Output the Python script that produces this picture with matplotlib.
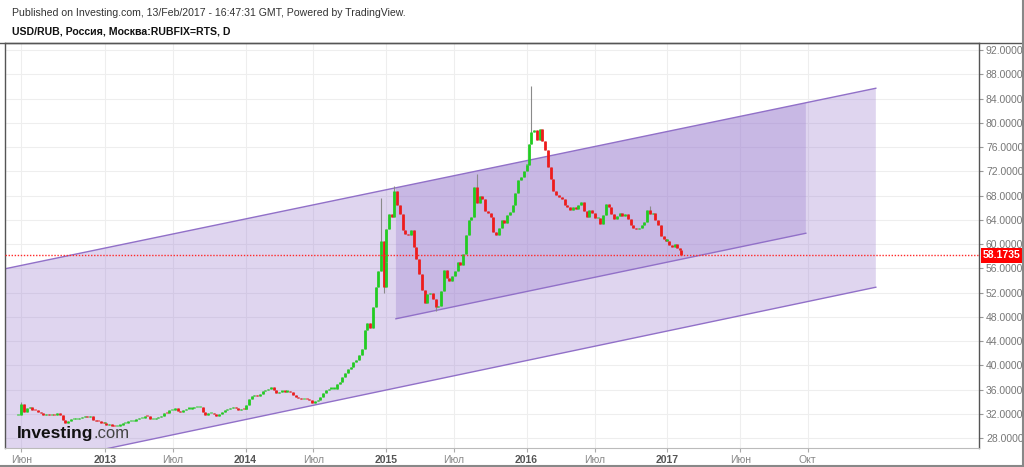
import numpy as np
import pandas as pd
import matplotlib
matplotlib.use('Agg')
import matplotlib.pyplot as plt
import matplotlib.transforms as mtransforms

plt.rcParams['font.family'] = ['Liberation Sans', 'DejaVu Sans']

# ---------------- data (weekly closes, Friday) ----------------
close_2012 = [31.9, 33.6, 32.4, 33.0, 33.2, 32.7, 32.6, 32.4, 32.1, 31.9, 32.0, 31.9,
              31.9, 31.8, 32.2, 31.9, 31.0, 30.6, 30.9, 31.1, 31.2, 31.2, 31.4, 31.5,
              31.6, 31.5, 31.6, 31.0, 30.9, 30.8, 30.6, 30.5]
close_2013 = [30.5, 30.2, 30.3, 30.1, 30.0, 30.1, 30.2, 30.5, 30.6, 30.8, 30.8, 30.9,
              31.1, 31.3, 31.4, 31.7, 31.6, 31.1, 31.1, 31.3, 31.5, 31.7, 32.2, 32.1,
              32.6, 32.7, 33.0, 32.5, 32.4, 32.6, 32.9, 32.9, 33.0, 33.1, 33.2, 33.2,
              32.4, 31.9, 32.2, 32.2, 32.0, 31.7, 32.0, 32.4, 32.6, 32.8, 33.0, 33.1,
              33.0, 32.7, 32.9, 32.8]
close_2014 = [32.9, 33.5, 34.4, 35.0, 35.2, 34.9, 35.3, 35.8, 35.9, 36.2, 36.5, 35.9,
              35.5, 35.7, 35.8, 35.7, 35.8, 35.6, 35.1, 34.8, 34.6, 34.4, 34.5, 34.4,
              34.3, 33.9, 34.1, 34.3, 34.8, 35.4, 35.9, 36.2, 36.2, 36.2, 36.9, 37.3,
              38.1, 38.7, 39.4, 39.8, 40.6, 40.9, 41.8, 42.8, 45.9, 47.0, 46.2, 49.7,
              53.0, 55.5, 60.6, 53.0]
close_2015 = [57.0, 62.5, 65.0, 64.5, 68.8, 66.5, 65.0, 62.3, 61.7, 61.5, 62.3, 59.5,
              57.5, 55.0, 52.5, 50.3, 51.8, 52.0, 51.0, 49.6, 49.8, 52.3, 55.8, 54.5,
              53.9, 54.8, 55.6, 57.0, 56.5, 58.3, 61.5, 64.0, 64.5, 69.5, 66.8, 68.0,
              67.5, 65.5, 65.2, 64.5, 62.0, 61.5, 62.6, 64.0, 63.5, 64.8, 65.3, 66.5,
              68.5, 70.6, 71.0, 72.0]
close_2016 = [73.0, 73.0, 76.5, 78.5, 78.8, 77.2, 79.0, 77.0, 75.6, 72.8, 70.8, 68.8,
              68.1, 67.7, 67.5, 66.4, 66.1, 65.6, 66.2, 65.8, 66.4, 66.9, 65.4, 64.4,
              65.6, 65.2, 64.3, 64.3, 63.3, 64.8, 66.6, 66.1, 64.9, 64.2, 64.7, 65.2,
              64.7, 65.0, 64.2, 63.1, 62.6, 62.5, 62.7, 63.1, 63.7, 65.6, 65.0, 65.2,
              64.0, 63.1, 61.4, 60.8, 60.6]
close_2017 = [60.6, 59.8, 59.6, 60.1, 59.4, 59.0]
first_fridays = ['2012-05-25', '2013-01-04', '2014-01-03', '2015-01-02', '2016-01-01', '2017-01-06']
last_date = '2017-02-13'
last_close = 58.1735

wick_high = {'2012-06-01': 34.0, '2014-12-19': 67.6, '2015-01-30': 69.6,
             '2015-08-28': 71.6, '2016-01-22': 86.0, '2016-11-18': 66.3}
wick_low = {'2014-12-26': 52.0, '2015-05-15': 49.0}

# drawings (date, value)
channel_upper = [('2015-02-04', 69.3), ('2018-02-02', 85.7)]
outer_lower = [('2013-01-22', 26.4), ('2018-02-02', 52.9)]
inner_lower = [('2015-02-04', 47.7), ('2017-09-28', 61.8)]
outer_start = '2012-03-01'
inner_end = '2017-09-28'
outer_end = '2018-02-02'

tick_dates = ['2012-06-01', '2013-01-01', '2013-07-01', '2014-01-01', '2014-07-01',
              '2015-01-01', '2015-07-01', '2016-01-01', '2016-07-01', '2017-01-01',
              '2017-06-01', '2017-10-01']
tick_labels = ['Июн', '2013', 'Июл', '2014', 'Июл', '2015', 'Июл', '2016', 'Июл', '2017',
               'Июн', 'Окт']
y_ticks = list(range(28, 93, 4))

# ---------------- x mapping (trading bars, then calendar days) ----------------
holidays = [f'{y}-01-0{d}' for y in range(2013, 2019) for d in range(1, 9)]
origin = np.datetime64('2013-01-09')
last_np = np.datetime64(last_date)


def xpos(d):
    d = np.datetime64(pd.Timestamp(d).date())
    if d <= last_np:
        dd = np.busday_offset(d, 0, roll='forward', holidays=holidays)
        return float(np.busday_count(origin, dd, holidays=holidays))
    base = float(np.busday_count(origin, last_np, holidays=holidays))
    return base + float((d - last_np).astype(int))


dates, closes = [], []
for start, vals in zip(first_fridays, [close_2012, close_2013, close_2014,
                                       close_2015, close_2016, close_2017]):
    ds = pd.date_range(start, periods=len(vals), freq='W-FRI')
    dates += [d.strftime('%Y-%m-%d') for d in ds]
    closes += vals
dates.append(last_date)
closes.append(last_close)

xs = np.array([xpos(d) for d in dates])
opens = [closes[0]] + closes[:-1]

# ---------------- figure ----------------
W, H = 1024, 467
fig = plt.figure(figsize=(W / 100, H / 100), dpi=100)
ax_l, ax_r, ax_t, ax_b = 5, 979, 43, 448
ax = fig.add_axes([ax_l / W, (H - ax_b) / H, (ax_r - ax_l) / W, (ax_b - ax_t) / H])

x13 = xpos('2013-01-01')
x17 = xpos('2017-01-01')
ppb = (667 - 105) / (x17 - x13)
xlim0 = x13 - (105 - ax_l) / ppb
xlim1 = xlim0 + (ax_r - ax_l) / ppb
ax.set_xlim(xlim0, xlim1)
ax.set_ylim(26.4, 93.16)

# grid
for t in tick_dates:
    ax.axvline(xpos(t), color='#eeeeee', lw=0.8, zorder=0)
for v in y_ticks:
    ax.axhline(v, color='#eeeeee', lw=0.8, zorder=0)


def line_val(pts, d):
    (d0, v0), (d1, v1) = pts
    x0, x1 = xpos(d0), xpos(d1)
    return v0 + (v1 - v0) * (xpos(d) - x0) / (x1 - x0)


fill_c = '#9575cd'
edge_c = '#9170c8'
# outer channel
xo0, xo1 = xpos(outer_start), xpos(outer_end)
ax.fill([xo0, xo1, xo1, xo0],
        [line_val(channel_upper, outer_start), line_val(channel_upper, outer_end),
         line_val(outer_lower, outer_end), line_val(outer_lower, outer_start)],
        color=fill_c, alpha=0.3, lw=0, zorder=1)
# inner channel
xi0, xi1 = xpos(inner_lower[0][0]), xpos(inner_end)
ax.fill([xi0, xi1, xi1, xi0],
        [line_val(channel_upper, inner_lower[0][0]), line_val(channel_upper, inner_end),
         line_val(inner_lower, inner_end), line_val(inner_lower, inner_lower[0][0])],
        color=fill_c, alpha=0.3, lw=0, zorder=1)
ax.plot([xo0, xo1], [line_val(channel_upper, outer_start), line_val(channel_upper, outer_end)],
        color=edge_c, lw=1.0, zorder=2)
ax.plot([xo0, xo1], [line_val(outer_lower, outer_start), line_val(outer_lower, outer_end)],
        color=edge_c, lw=1.0, zorder=2)
ax.plot([xi0, xi1], [line_val(inner_lower, inner_lower[0][0]), line_val(inner_lower, inner_end)],
        color=edge_c, lw=1.0, zorder=2)

# candles
his = [max(o, c, wick_high.get(d, 0)) for d, o, c in zip(dates, opens, closes)]
los = [min(o, c, wick_low.get(d, 999)) for d, o, c in zip(dates, opens, closes)]
ax.vlines(xs, los, his, colors='#8a8a8a', lw=0.8, zorder=3)
cols = ['#22cc22' if c >= o else '#ee1c1c' for o, c in zip(opens, closes)]
min_body = 0.18
body_lo = np.minimum(opens, closes)
body_hi = np.maximum(np.maximum(opens, closes), body_lo + min_body)
ax.vlines(xs, body_lo, body_hi, colors=cols, lw=2.0, zorder=4)

# last price line
ax.axhline(last_close, color='#ff2a2a', lw=1.0, ls=(0, (1, 1.2)), zorder=5)

# axes styling
ax.set_xticks([xpos(t) for t in tick_dates])
ax.set_xticklabels(tick_labels)
for lab, txt in zip(ax.get_xticklabels(), tick_labels):
    if txt.isdigit():
        lab.set_fontweight('bold')
        lab.set_color('#555555')
    else:
        lab.set_color('#888888')
ax.tick_params(axis='x', labelsize=7.5, length=3, color='#aaaaaa', pad=2)
ax.yaxis.tick_right()
ax.set_yticks(y_ticks)
ax.set_yticklabels([f'{v:.4f}' for v in y_ticks])
ax.tick_params(axis='y', labelsize=7.5, labelcolor='#777777', length=3, color='#999999', pad=2)
for s in ['left', 'right', 'top']:
    ax.spines[s].set_color('#555555')
    ax.spines[s].set_linewidth(1.0)
ax.spines['bottom'].set_color('#bbbbbb')
ax.spines['bottom'].set_linewidth(0.8)

trans = mtransforms.blended_transform_factory(ax.transAxes, ax.transData)
ax.text(1.004, last_close, f'{last_close:.4f}', transform=trans, va='center', ha='left',
        color='white', fontweight='bold', fontsize=7.5, zorder=10,
        bbox=dict(boxstyle='square,pad=0.22', fc='#ff0000', ec='none'))

# header
fig.text(12 / W, 1 - 13 / H, 'Published on Investing.com, 13/Feb/2017 - 16:47:31 GMT, Powered by TradingView.',
         fontsize=7.6, color='#333333', va='center', ha='left')
fig.text(12 / W, 1 - 32 / H, 'USD/RUB, Россия, Москва:RUBFIX=RTS, D',
         fontsize=7.6, fontweight='bold', color='#111111', va='center', ha='left')
fig.add_artist(plt.Line2D([0, 1], [1 - 43 / H, 1 - 43 / H], color='#555555', lw=1.0,
                          transform=fig.transFigure))
fig.add_artist(plt.Line2D([0, 1], [1 - 465.5 / H, 1 - 465.5 / H], color='#888888', lw=1.5,
                          transform=fig.transFigure))
fig.add_artist(plt.Line2D([1022.5 / W, 1022.5 / W], [0, 1], color='#888888', lw=1.5,
                          transform=fig.transFigure))

# logo
t1 = fig.text(17 / W, 1 - 438 / H, 'Investing', fontsize=12.5, fontweight='bold',
              color='#111111', va='baseline', ha='left')
fig.canvas.draw()
bb = t1.get_window_extent()
fig.text(bb.x1 / W, 1 - 438 / H, '.com', fontsize=12, color='#444444',
         va='baseline', ha='left')

fig.savefig('out.png', dpi=100, facecolor='white')
